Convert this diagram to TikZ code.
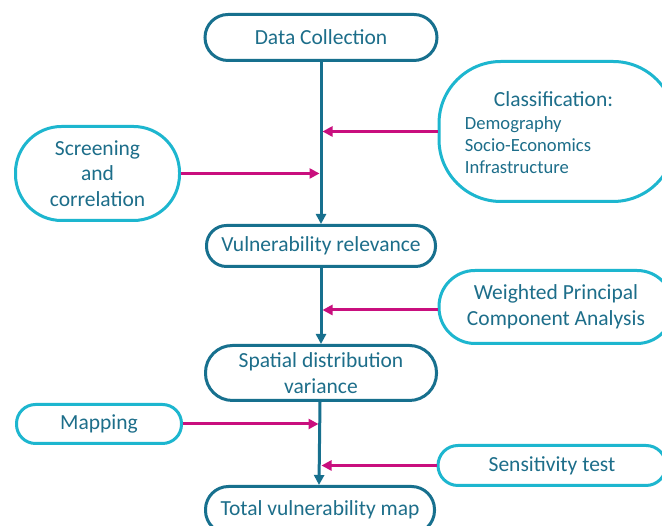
\documentclass[tikz,border=0pt]{standalone}
\usepackage{fontspec}
\setmainfont{Carlito}
\usetikzlibrary{arrows.meta}
\definecolor{dteal}{HTML}{17708E}
\definecolor{cyanb}{HTML}{1DB6CF}
\definecolor{mag}{HTML}{C90F7E}
\definecolor{txt}{HTML}{1D6E8A}
\tikzset{
  box/.style={draw, line width=3pt, inner sep=0pt, text=txt, align=center,
    font=\fontsize{21.5}{25.5}\selectfont, fill=white},
  mainbox/.style={box, draw=dteal},
  sidebox/.style={box, draw=cyanb},
  flow/.style={draw=dteal, line width=3pt, -{Triangle[length=10pt,width=10pt]}},
  feed/.style={draw=mag, line width=3pt, -{Triangle[length=10pt,width=10pt]}},
}
\begin{document}
\begin{tikzpicture}[x=1pt,y=1pt]
\useasboundingbox (0,0) rectangle (662,526);
\clip (0,0) rectangle (662,526);
\fill[white] (0,0) rectangle (662,526);
% main column
\node[mainbox, minimum width=232, minimum height=46, rounded corners=23] (DC) at (321,488.5) {Data Collection};
\node[mainbox, minimum width=229, minimum height=41, rounded corners=20] (VR) at (321,280) {Vulnerability relevance};
\node[mainbox, minimum width=231, minimum height=55, rounded corners=27] (SD) at (321,153) {Spatial distribution\\variance};
\node[mainbox, minimum width=229, minimum height=47, rounded corners=23] (TV) at (320,16) {Total vulnerability map};
% side boxes
\node[sidebox, minimum width=236, minimum height=140, rounded corners=62] (CL) at (557,394.5) {};
\node[text=txt, align=left, font=\fontsize{18.6}{22}\selectfont] (CLt) at (539,393.5)
  {\hspace*{29pt}{\fontsize{21.5}{23}\selectfont Classification:}\\[1pt]Demography\\Socio-Economics\\Infrastructure};
\node[sidebox, minimum width=164, minimum height=94, rounded corners=46] (SC) at (97.5,352.5) {Screening\\and\\correlation};
\node[sidebox, minimum width=234, minimum height=73, rounded corners=36] (WP) at (556,219) {Weighted Principal\\Component Analysis};
\node[sidebox, minimum width=165, minimum height=39, rounded corners=19] (MP) at (99,102) {Mapping};
\node[sidebox, minimum width=228, minimum height=40, rounded corners=20] (ST) at (552,60.5) {Sensitivity test};
% main flow
\draw[flow] (DC.south) -- (VR.north);
\draw[flow] (VR.south) -- (SD.north);
\draw[flow] ([xshift=-1pt]SD.south) -- ([xshift=-1pt]TV.north |- TV.north);
% feeds
\coordinate (c1) at ([xshift=1.5pt]DC.south |- CL.west);
\draw[feed] (CL.west) -- (c1);
\coordinate (c2) at ([xshift=-1.5pt]DC.south |- SC.east);
\draw[feed] (SC.east) -- (c2);
\coordinate (c3) at ([xshift=1.5pt]VR.south |- WP.west);
\draw[feed] ([yshift=-3pt]WP.west) -- ([yshift=-3pt]c3);
\coordinate (c4) at ([xshift=-2.5pt]SD.south |- MP.east);
\draw[feed] (MP.east) -- (c4);
\coordinate (c5) at ([xshift=0.5pt]SD.south |- ST.west);
\draw[feed] (ST.west) -- (c5);
\end{tikzpicture}
\end{document}
